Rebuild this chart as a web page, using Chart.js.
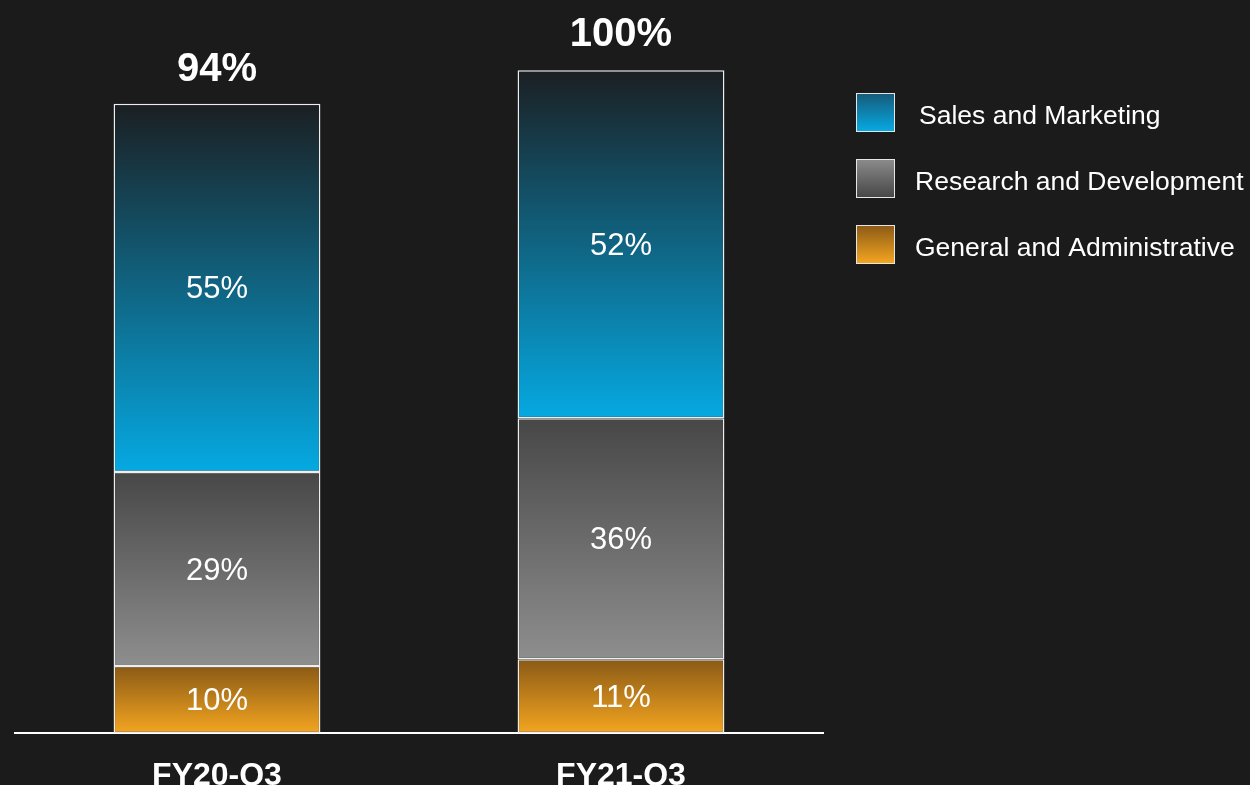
<!DOCTYPE html>
<html>
<head>
<meta charset="utf-8">
<script src="https://cdn.jsdelivr.net/npm/chart.js@4"></script>
<style>
  html, body { margin: 0; padding: 0; background: #1b1b1b; }
  #wrap { width: 1250px; height: 785px; }
</style>
</head>
<body>
<div id="wrap"><canvas id="grafico" width="1250" height="785"></canvas></div>
<script>
// datos
const categorias = ["FY20-Q3", "FY21-Q3"];
const ventasMarketing = [55, 52];
const investigacionDesarrollo = [29, 36];
const generalAdmin = [10, 11];
const totales = ["94%", "100%"];
const nombresSeries = ["General and Administrative", "Research and Development", "Sales and Marketing"];

const fuente = "Arial, 'Liberation Sans', Helvetica, sans-serif";

// colores de los degradados (arriba -> abajo)
const degradados = [
  ["#8a5a16", "#f4a520"],
  ["#474747", "#8e8e8e"],
  ["#1b1f22", "#05a9e2"],
];

const series = [generalAdmin, investigacionDesarrollo, ventasMarketing];

function fondoBarra(context) {
  const chart = context.chart;
  const { ctx, chartArea, scales } = chart;
  const colores = degradados[context.datasetIndex];
  if (!chartArea || !scales.y) return colores[1];
  let inicio = 0;
  for (let i = 0; i < context.datasetIndex; i++) inicio += series[i][context.dataIndex];
  const fin = inicio + series[context.datasetIndex][context.dataIndex];
  const yArriba = scales.y.getPixelForValue(fin);
  const yAbajo = scales.y.getPixelForValue(inicio);
  const g = ctx.createLinearGradient(0, yArriba, 0, yAbajo);
  g.addColorStop(0, colores[0]);
  g.addColorStop(1, colores[1]);
  return g;
}

// etiquetas dentro de las barras, totales y categorías
const etiquetasPlugin = {
  id: "etiquetas",
  afterDatasetsDraw(chart) {
    const ctx = chart.ctx;
    ctx.save();
    ctx.fillStyle = "#ffffff";
    ctx.textAlign = "center";
    ctx.textBaseline = "middle";
    ctx.font = "31px " + fuente;
    chart.data.datasets.forEach((ds, di) => {
      chart.getDatasetMeta(di).data.forEach((bar, i) => {
        const yCentro = (bar.y + bar.base) / 2 + 2;
        ctx.fillText(ds.data[i] + "%", bar.x, yCentro);
      });
    });
    const metaTop = chart.getDatasetMeta(chart.data.datasets.length - 1);
    ctx.font = "bold 40px " + fuente;
    metaTop.data.forEach((bar, i) => {
      ctx.fillText(totales[i], bar.x, bar.y - 35 + (i === 0 ? 1 : 0));
    });
    ctx.font = "bold 32px " + fuente;
    const x = chart.scales.x;
    categorias.forEach((c, i) => {
      ctx.fillText(c, x.getPixelForValue(i), 776);
    });
    ctx.restore();
  },
};

// leyenda con cuadros degradados
const leyendaPlugin = {
  id: "leyendaDegradado",
  afterDraw(chart) {
    const ctx = chart.ctx;
    const orden = [2, 1, 0];
    const coloresLeyenda = [
      ["#165a78", "#06a9e2"],
      ["#8c8c8c", "#474747"],
      ["#8a5a16", "#f4a520"],
    ];
    ctx.save();
    orden.forEach((di, k) => {
      const y0 = 93 + k * 66;
      const g = ctx.createLinearGradient(0, y0, 0, y0 + 38);
      g.addColorStop(0, coloresLeyenda[k][0]);
      g.addColorStop(1, coloresLeyenda[k][1]);
      ctx.fillStyle = g;
      ctx.fillRect(856, y0, 38, 38);
      ctx.strokeStyle = "#e6e6e6";
      ctx.lineWidth = 1;
      ctx.strokeRect(856.5, y0 + 0.5, 38, 38);
      ctx.fillStyle = "#ffffff";
      ctx.font = "26.5px " + fuente;
      ctx.textAlign = "left";
      ctx.textBaseline = "middle";
      ctx.fillText(chart.data.datasets[di].label, k === 0 ? 919 : 915, y0 + 24);
    });
    ctx.restore();
  },
};

const ctx = document.getElementById("grafico").getContext("2d");

const chart = new Chart(ctx, {
  type: "bar",
  data: {
    labels: categorias,
    datasets: series.map((s, i) => ({
      label: nombresSeries[i],
      data: s,
      backgroundColor: fondoBarra,
      borderColor: "#eeeeee",
      borderWidth: 1.5,
      borderSkipped: false,
      barPercentage: 0.512,
      categoryPercentage: 1,
    })),
  },
  options: {
    responsive: false,
    animation: false,
    layout: { padding: { left: 15, right: 427, top: 30, bottom: 44 } },
    plugins: {
      legend: { display: false },
      tooltip: { enabled: false },
    },
    scales: {
      x: {
        stacked: true,
        grid: { display: false },
        ticks: { display: false },
        border: { display: true, color: "#ffffff", width: 2 },
      },
      y: {
        stacked: true,
        display: false,
        min: 0,
        max: 105,
      },
    },
  },
  plugins: [etiquetasPlugin, leyendaPlugin],
});
</script>
</body>
</html>
